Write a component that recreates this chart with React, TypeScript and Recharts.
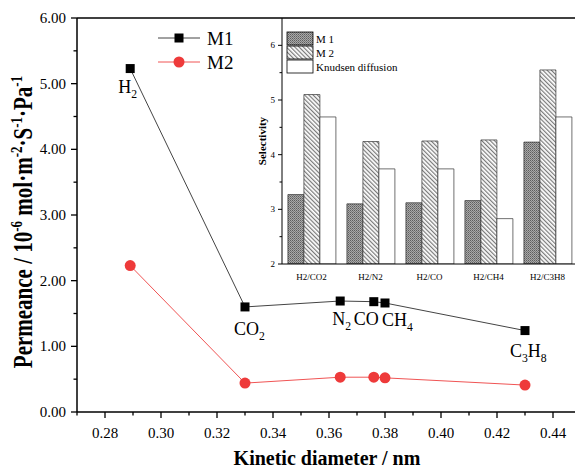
import React from 'react';
import {
    LineChart, Line, XAxis, YAxis, ReferenceLine, Label,
    BarChart, Bar,
} from 'recharts';

// Permeance vs kinetic diameter
const gases = ['H2', 'CO2', 'N2', 'CO', 'CH4', 'C3H8'];
const kineticDiameter = [0.289, 0.33, 0.364, 0.376, 0.38, 0.43];
const m1Permeance = [5.23, 1.6, 1.69, 1.68, 1.66, 1.24];
const m2Permeance = [2.23, 0.44, 0.53, 0.53, 0.52, 0.41];

// Selectivity inset
const pairs = ['H2/CO2', 'H2/N2', 'H2/CO', 'H2/CH4', 'H2/C3H8'];
const m1Selectivity = [3.27, 3.1, 3.12, 3.16, 4.23];
const m2Selectivity = [5.1, 4.24, 4.25, 4.27, 5.55];
const knudsen = [4.69, 3.74, 3.74, 2.83, 4.69];

const xTicks = [0.27, 0.28, 0.29, 0.3, 0.31, 0.32, 0.33, 0.34, 0.35, 0.36, 0.37, 0.38, 0.39, 0.4, 0.41, 0.42, 0.43, 0.44, 0.45];
const yTicks = [0, 0.5, 1, 1.5, 2, 2.5, 3, 3.5, 4, 4.5, 5, 5.5, 6];
const insetTicks = [2, 2.5, 3, 3.5, 4, 4.5, 5, 5.5, 6];

// where each gas label sits relative to its M1 point (text start, baseline)
const labelOffsets = [[-12, 24], [-11, 28], [-8, 24], [-20, 23], [-3, 23], [-15, 26]];

const FONT = '"Liberation Serif", "Times New Roman", serif';

const lineData = gases.map((g, i) => ({
    gas: g,
    d: kineticDiameter[i],
    m1: m1Permeance[i],
    m2: m2Permeance[i],
}));

const barData = pairs.map((p, i) => ({
    pair: p,
    m1: m1Selectivity[i],
    m2: m2Selectivity[i],
    kn: knudsen[i],
}));

// text with digits as subscripts (H2 -> H₂)
const Formula = ({ x, y, text, size }: { x: number; y: number; text: string; size: number }) => {
    const parts = text.match(/[A-Za-z]+|\d+/g) || [];
    let sub = false;
    return (
        <text x={x} y={y} fontFamily={FONT} fontSize={size} fill="#000">
            {parts.map((p, i) => {
                const isNum = /\d/.test(p);
                const dy = isNum && !sub ? 5 : !isNum && sub ? -5 : 0;
                sub = isNum;
                return (
                    <tspan key={i} dy={dy} fontSize={isNum ? size * 0.65 : size}>{p}</tspan>
                );
            })}
        </text>
    );
};

const GasLabel = (props: any) => {
    const { x, y, index } = props;
    const [dx, dy] = labelOffsets[index];
    return <Formula x={x + dx} y={y + dy} text={gases[index]} size={18} />;
};

const SquareDot = (props: any) => {
    const { cx, cy } = props;
    return <rect x={cx - 4.5} y={cy - 4.5} width={9} height={9} fill="#000" />;
};

const MainXTick = (props: any) => {
    const { x, y, payload } = props;
    const v = payload.value;
    const major = Math.round(v * 100) % 2 === 0;
    return (
        <g>
            <line x1={x} y1={y} x2={x} y2={y + (major ? 6 : 3.5)} stroke="#000" strokeWidth={1.3} />
            {major && (
                <text x={x} y={y + 26} textAnchor="middle" fontFamily={FONT} fontSize={15} fill="#000">
                    {v.toFixed(2)}
                </text>
            )}
        </g>
    );
};

const MainYTick = (props: any) => {
    const { x, y, payload } = props;
    const v = payload.value;
    const major = Number.isInteger(v);
    return (
        <g>
            <line x1={x} y1={y} x2={x - (major ? 6 : 3.5)} y2={y} stroke="#000" strokeWidth={1.3} />
            {major && (
                <text x={x - 11} y={y + 5} textAnchor="end" fontFamily={FONT} fontSize={15} fill="#000">
                    {v.toFixed(2)}
                </text>
            )}
        </g>
    );
};

const InsetYTick = (props: any) => {
    const { x, y, payload } = props;
    const v = payload.value;
    const major = Number.isInteger(v);
    return (
        <g>
            <line x1={x} y1={y} x2={x - (major ? 4 : 2.5)} y2={y} stroke="#000" strokeWidth={1} />
            {major && (
                <text x={x - 7} y={y + 3} textAnchor="end" fontFamily={FONT} fontSize={9} fill="#000">
                    {v}
                </text>
            )}
        </g>
    );
};

const InsetXTick = (props: any) => {
    const { x, y, payload } = props;
    return (
        <text x={x} y={y + 16} textAnchor="middle" fontFamily={FONT} fontSize={9} fill="#000">
            {payload.value}
        </text>
    );
};

// the original y title is drawn taller than wide, hence the scale
const YTitle = (props: any) => {
    const { viewBox } = props;
    const cx = 32;
    const cy = viewBox.y + viewBox.height / 2 + 7;
    const sup = { dy: -8, fontSize: 13 };
    const back = { dy: 8 };
    return (
        <g transform={`translate(${cx} ${cy}) rotate(-90) scale(1 1.3)`}>
            <text
                x={0}
                y={0}
                textAnchor="middle"
                fontFamily={FONT}
                fontWeight="bold"
                fontSize={21}
                fill="#000"
            >
                <tspan>Permeance / 10</tspan>
                <tspan {...sup}>-6</tspan>
                <tspan {...back}> mol·m</tspan>
                <tspan {...sup}>-2</tspan>
                <tspan {...back}>·S</tspan>
                <tspan {...sup}>-1</tspan>
                <tspan {...back}>·Pa</tspan>
                <tspan {...sup}>-1</tspan>
            </text>
        </g>
    );
};

const XTitle = (props: any) => {
    const { viewBox } = props;
    return (
        <text
            x={viewBox.x + viewBox.width / 2 - 2}
            y={viewBox.y + 53}
            textAnchor="middle"
            fontFamily={FONT}
            fontWeight="bold"
            fontSize={20}
            fill="#000"
        >
            Kinetic diameter / nm
        </text>
    );
};

const SelTitle = (props: any) => {
    const { viewBox } = props;
    const cx = 36;
    const cy = viewBox.y + viewBox.height / 2 - 0;
    return (
        <text
            x={cx}
            y={cy}
            transform={`rotate(-90 ${cx} ${cy})`}
            textAnchor="middle"
            fontFamily={FONT}
            fontWeight="bold"
            fontSize={11}
            fill="#000"
        >
            Selectivity
        </text>
    );
};

const MainLegend = () => (
    <g fontFamily={FONT} fontSize={19}>
        <line x1={158} y1={38} x2={200} y2={38} stroke="#444" strokeWidth={1} />
        <rect x={174.5} y={33.5} width={9} height={9} fill="#000" />
        <text x={207} y={44.5} fill="#000">M1</text>
        <line x1={158} y1={62} x2={200} y2={62} stroke="#f05454" strokeWidth={1} />
        <circle cx={179} cy={62} r={5.5} fill="#ee3a3a" />
        <text x={207} y={68.5} fill="#000">M2</text>
    </g>
);

const InsetLegend = () => (
    <g fontFamily={FONT} fontSize={11}>
        <rect x={57} y={32} width={26} height={13} fill="url(#m1pat)" stroke="#000" strokeWidth={0.8} />
        <text x={86} y={43} fill="#000">M 1</text>
        <rect x={57} y={46} width={26} height={13} fill="url(#m2pat)" stroke="#000" strokeWidth={0.8} />
        <text x={86} y={57} fill="#000">M 2</text>
        <rect x={57} y={60} width={26} height={13} fill="#fff" stroke="#000" strokeWidth={0.8} />
        <text x={86} y={71} fill="#000">Knudsen diffusion</text>
    </g>
);

export default function App() {
    return (
        <div style={{ position: 'fixed', left: 0, top: 0, width: 575, height: 469, overflow: 'hidden', background: '#fff' }}>
            <div style={{ position: 'absolute', left: 0, top: 0 }}>
                <LineChart width={590} height={469} data={lineData} margin={{ top: 18, right: 9, left: 0, bottom: 0 }}>
                    <XAxis
                        dataKey="d"
                        type="number"
                        domain={[0.27, 0.45]}
                        ticks={xTicks}
                        interval={0}
                        height={57}
                        tickSize={0}
                        tickMargin={0}
                        tick={<MainXTick />}
                        stroke="#000"
                        strokeWidth={1.5}
                    >
                        <Label content={<XTitle />} />
                    </XAxis>
                    <YAxis
                        type="number"
                        domain={[0, 6]}
                        ticks={yTicks}
                        interval={0}
                        width={77}
                        tickSize={0}
                        tickMargin={0}
                        tick={<MainYTick />}
                        stroke="#000"
                        strokeWidth={1.5}
                    >
                        <Label content={<YTitle />} />
                    </YAxis>
                    <ReferenceLine y={6} stroke="#000" strokeWidth={1.5} />
                    <Line
                        dataKey="m1"
                        stroke="#444"
                        strokeWidth={1}
                        dot={<SquareDot />}
                        activeDot={false}
                        label={<GasLabel />}
                        isAnimationActive={false}
                    />
                    <Line
                        dataKey="m2"
                        stroke="#f05454"
                        strokeWidth={1}
                        dot={{ r: 5.5, fill: '#ee3a3a', stroke: 'none' }}
                        activeDot={false}
                        isAnimationActive={false}
                    />
                    <MainLegend />
                </LineChart>
            </div>
            <div style={{ position: 'absolute', left: 230, top: 0 }}>
                <BarChart
                    width={350}
                    height={300}
                    data={barData}
                    margin={{ top: 18, right: 3, left: 0, bottom: 0 }}
                    barCategoryGap="10%"
                    barGap={0}
                >
                    <defs>
                        <pattern id="m1pat" width={2} height={2} patternUnits="userSpaceOnUse">
                            <rect width={2} height={2} fill="#a9a9a9" />
                            <rect width={1} height={1} fill="#5e5e5e" />
                            <rect x={1} y={1} width={1} height={1} fill="#7a7a7a" />
                        </pattern>
                        <pattern id="m2pat" width={3} height={3} patternUnits="userSpaceOnUse" patternTransform="rotate(-45)">
                            <rect width={3} height={3} fill="#fff" />
                            <rect width={1.2} height={3} fill="#7a7a7a" />
                        </pattern>
                    </defs>
                    <XAxis
                        dataKey="pair"
                        height={36}
                        interval={0}
                        tickSize={0}
                        tickMargin={0}
                        tick={<InsetXTick />}
                        stroke="#000"
                        strokeWidth={1}
                    />
                    <YAxis
                        type="number"
                        domain={[2, 6.5]}
                        ticks={insetTicks}
                        interval={0}
                        width={52}
                        tickSize={0}
                        tickMargin={0}
                        tick={<InsetYTick />}
                        stroke="#000"
                        strokeWidth={1}
                        allowDataOverflow
                    >
                        <Label content={<SelTitle />} />
                    </YAxis>
                    <Bar dataKey="m1" fill="url(#m1pat)" stroke="#333" strokeWidth={0.7} isAnimationActive={false} />
                    <Bar dataKey="m2" fill="url(#m2pat)" stroke="#333" strokeWidth={0.7} isAnimationActive={false} />
                    <Bar dataKey="kn" fill="#fff" stroke="#333" strokeWidth={0.7} isAnimationActive={false} />
                    <InsetLegend />
                </BarChart>
            </div>
        </div>
    );
}
